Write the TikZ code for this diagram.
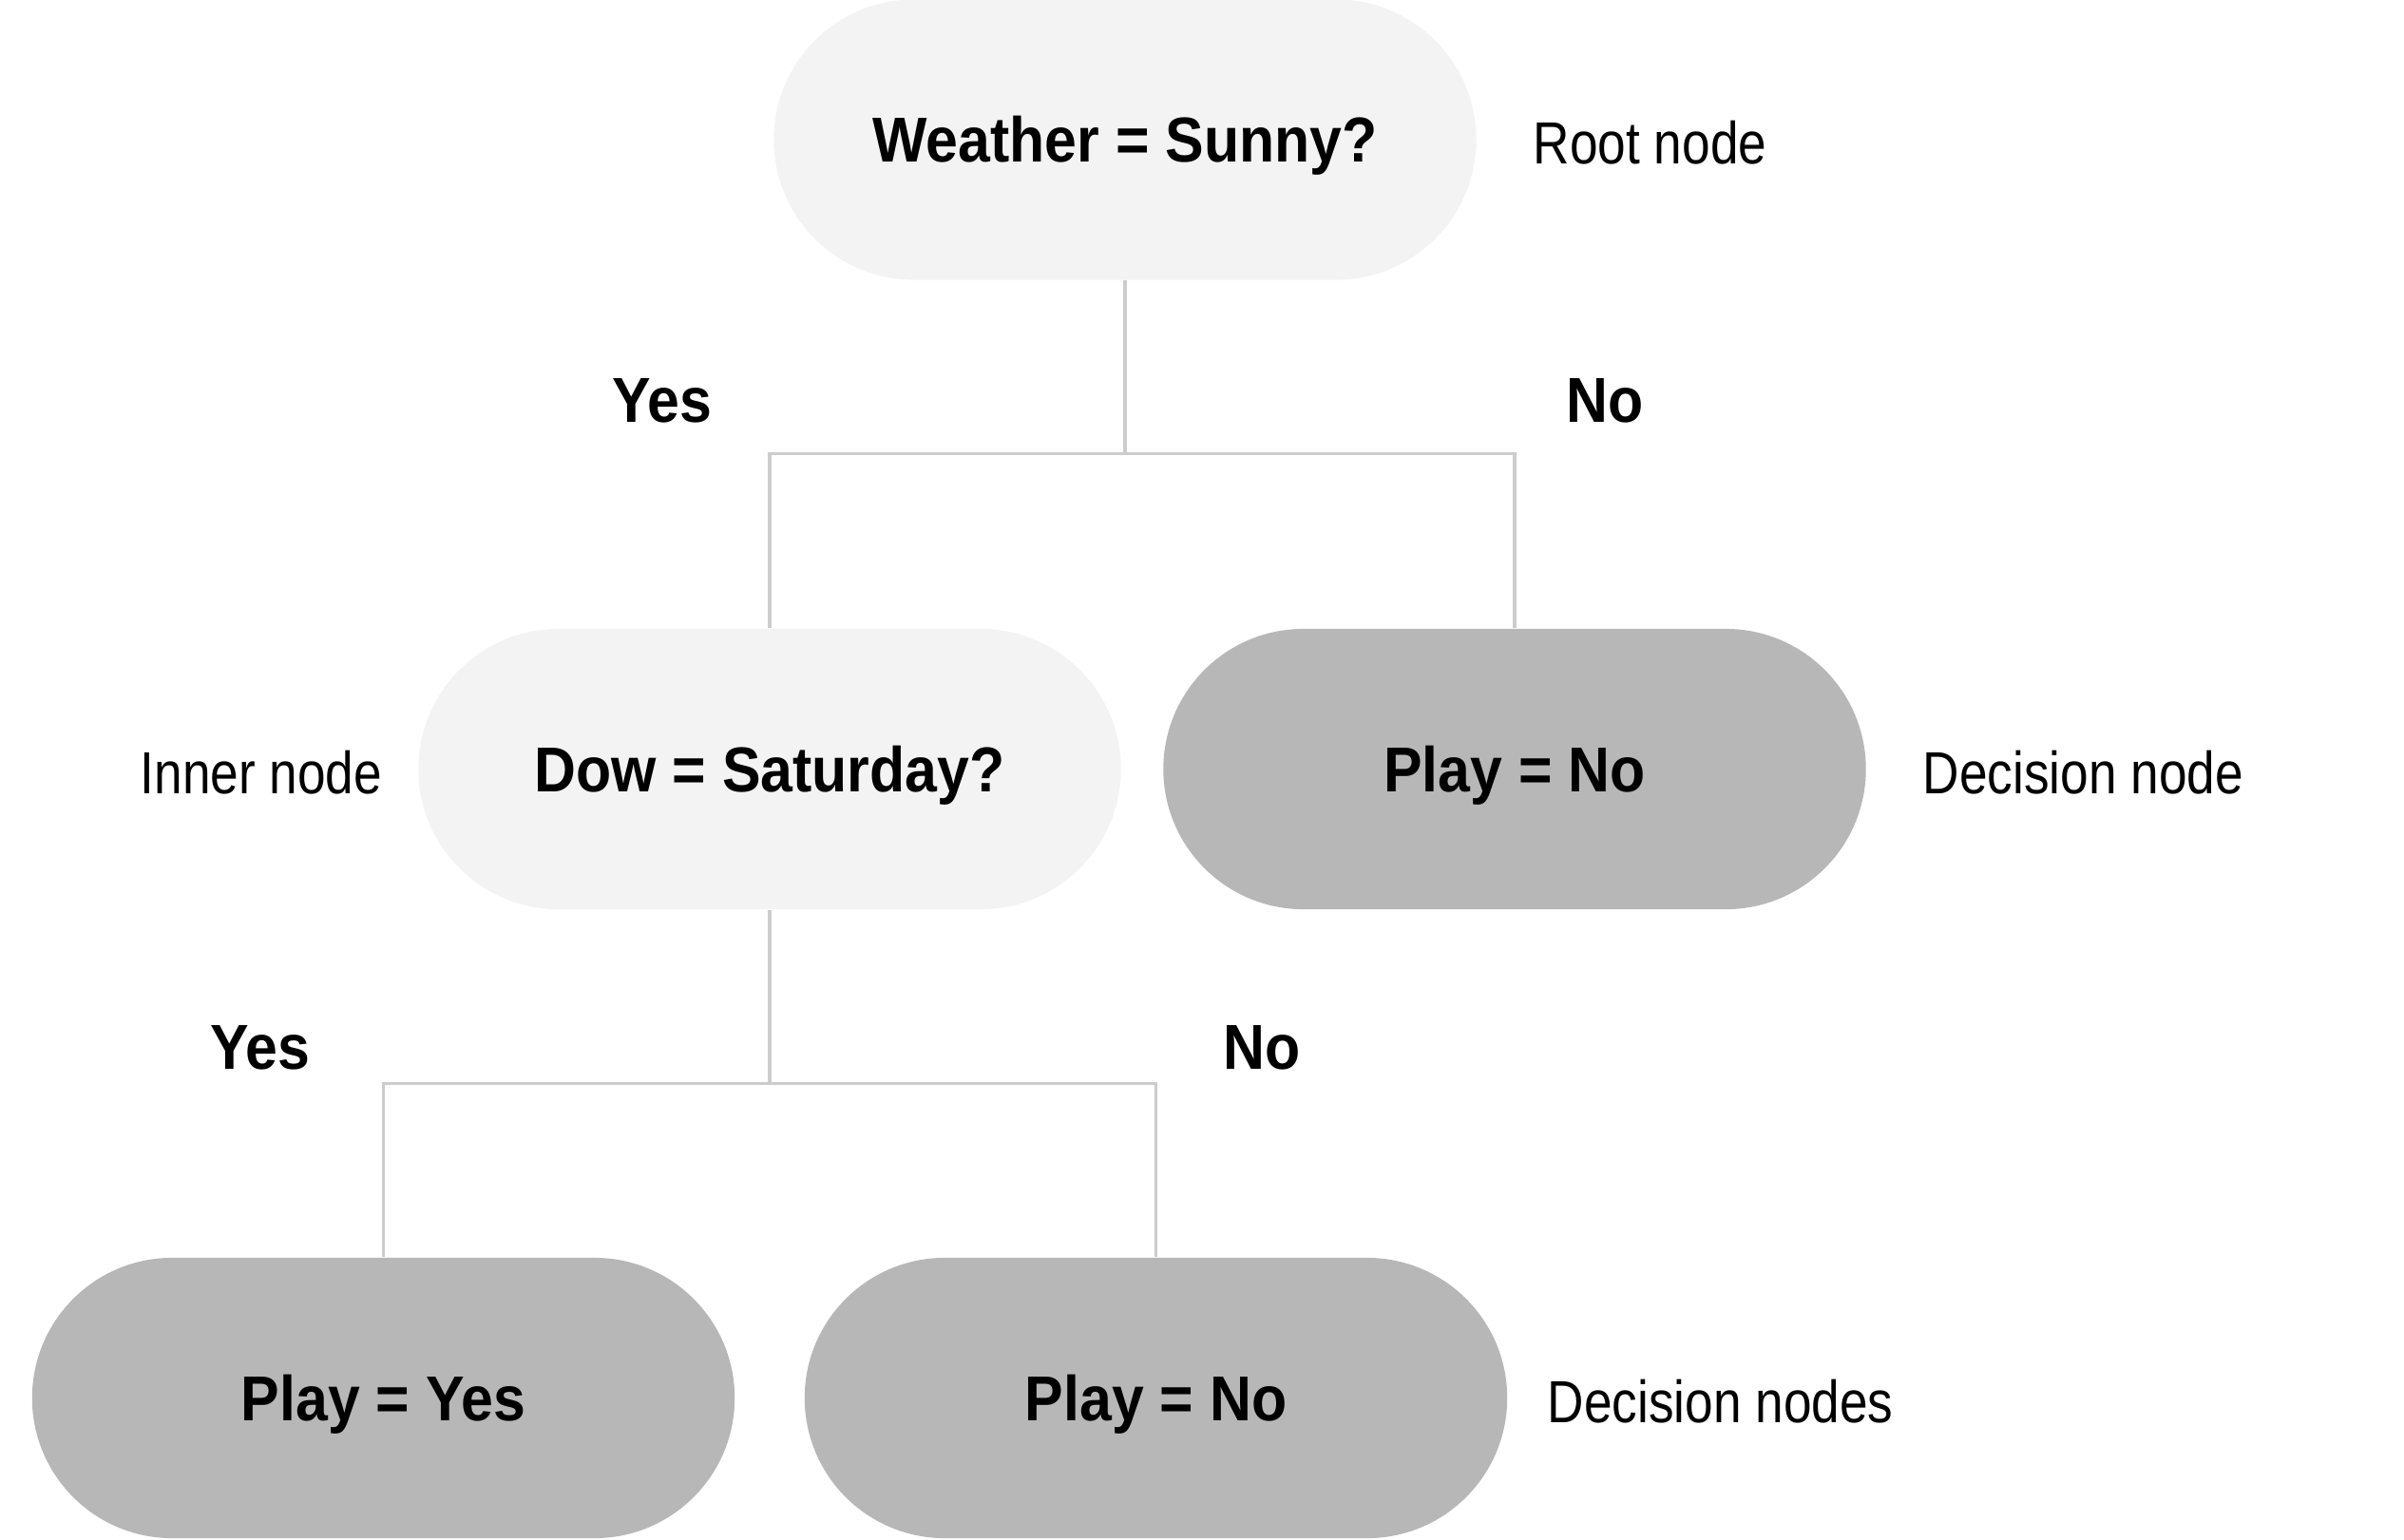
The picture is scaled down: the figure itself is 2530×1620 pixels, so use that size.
\documentclass[tikz,border=0pt]{standalone}
\usepackage{fontspec}
\setmainfont{Liberation Sans}
\newfontfamily\nodefont[FakeStretch=0.91]{Liberation Sans Bold}
\newfontfamily\notefont[FakeStretch=0.85]{Liberation Sans}
\definecolor{lightfill}{HTML}{F3F3F3}
\definecolor{darkfill}{HTML}{B7B7B7}
\definecolor{linecol}{HTML}{CCCCCC}
\usetikzlibrary{shapes.misc}
\tikzset{
  pill/.style={rounded rectangle, minimum width=7.39cm, minimum height=2.95cm, inner sep=0pt,
    font=\nodefont\fontsize{19}{22}\selectfont, text height=0.47cm, text depth=0pt},
  pilllight/.style={pill, fill=lightfill},
  pilldark/.style={pill, fill=darkfill},
  branch/.style={inner sep=0pt, font=\nodefont\fontsize{19}{22}\selectfont, text height=0.47cm, text depth=0pt},
  note/.style={inner sep=0pt, anchor=west, font=\notefont\fontsize{17.8}{21}\selectfont, text height=0.45cm, text depth=0pt},
  conn/.style={draw=linecol, line width=0.9pt}
}
\begin{document}
\begin{tikzpicture}[x=0.01cm, y=-0.01cm]
\useasboundingbox (0,0) rectangle (2530,1620);
% nodes
\node[pilllight] (root) at (1184,147) {Weather = Sunny?};
\node[pilllight] (dow) at (810,809.5) {Dow = Saturday?};
\node[pilldark] (pno) at (1594,809.5) {Play = No};
\node[pilldark] (pyes2) at (403.5,1471.5) {Play = Yes};
\node[pilldark] (pno2) at (1216.5,1471.5) {Play = No};
% junctions
\coordinate (j1) at (1184,477.6);
\coordinate (j2) at (810,1140.7);
% connectors
\draw[conn] (root.south) -- (j1);
\draw[conn] (j1) -| (dow.north);
\draw[conn] (j1) -| (pno.north);
\draw[conn] (dow.south) -- (j2);
\draw[conn] (j2) -| (pyes2.north);
\draw[conn] (j2) -| (pno2.north);
% branch labels
\node[branch] (y1) at (697,421) {Yes};
\node[branch] (n1) at (1689,421) {No};
\node[branch] (y2) at (274,1102) {Yes};
\node[branch] (n2) at (1328,1102) {No};
% notes
\node[note] (lroot) at (1613,150) {Root node};
\node[note] (linner) at (147,813) {Inner node};
\node[note] (ldec) at (2023,813) {Decision node};
\node[note] (ldecs) at (1628,1475) {Decision nodes};
\end{tikzpicture}
\end{document}
